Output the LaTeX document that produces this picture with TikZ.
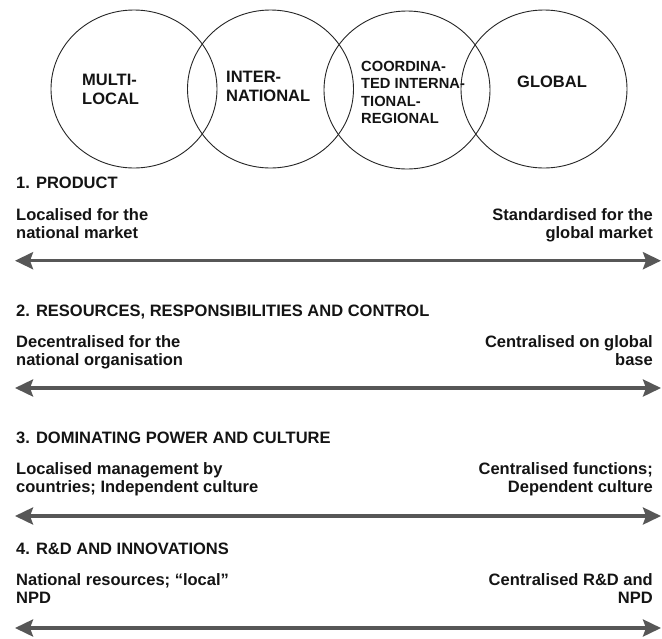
\documentclass[tikz,border=0pt]{standalone}
\usepackage{fontspec}
\setmainfont{Liberation Sans}
\usetikzlibrary{arrows.meta,shapes.geometric}
\begin{document}
\begin{tikzpicture}[x=1pt,y=-1pt,
  circ/.style={draw=black!85, line width=0.9pt, ellipse, minimum width=166pt, minimum height=158pt, inner sep=0pt},
  ctext/.style={anchor=north west, inner sep=0pt, align=left, text=black!92, font=\bfseries\fontsize{16.5}{19}\selectfont},
  ctextsmall/.style={anchor=north west, inner sep=0pt, align=left, text=black!92, font=\bfseries\fontsize{14.7}{17.2}\selectfont},
  title/.style={anchor=base west, inner sep=0pt, text=black!92, font=\bfseries\fontsize{16.5}{18}\selectfont},
  ltext/.style={anchor=north west, inner sep=0pt, align=left, text=black!92, font=\bfseries\fontsize{16.5}{18}\selectfont},
  rtext/.style={anchor=north east, inner sep=0pt, align=right, text=black!92, font=\bfseries\fontsize{16.5}{18}\selectfont},
  biarrow/.style={draw=black!66, line width=3.4pt, {Stealth[length=18pt,width=17pt,inset=3pt]}-{Stealth[length=18pt,width=17pt,inset=3pt]}}
]
\fill[white] (0,0) rectangle (662,638);
\useasboundingbox (0,0) rectangle (662,638);

% circles
\node[circ] (c1) at (134,89) {};
\node[circ] (c2) at (270.5,89) {};
\node[circ] (c3) at (407,90) {};
\node[circ] (c4) at (544,89) {};

\node[ctext] (t1) at (82,74.2) {MULTI-\\LOCAL};
\node[ctext] (t2) at (226,71) {INTER-\\NATIONAL};
\node[ctextsmall] (t3) at (361,61.2) {COORDINA-\\TED INTERNA-\\TIONAL-\\REGIONAL};
\node[ctext] (t4) at (517,76.2) {GLOBAL};

% 1
\node[title] (h1) at (16,188.3) {1. PRODUCT};
\node[ltext] (l1) at (16,208) {Localised for the\\national market};
\node[rtext] (r1) at (653,208) {Standardised for the\\global market};
\coordinate (a1l) at (15,260.7);
\coordinate (a1r) at (661,260.7);
\draw[biarrow] (a1l) -- (a1r);

% 2
\node[title] (h2) at (16,316) {2. RESOURCES, RESPONSIBILITIES AND CONTROL};
\node[ltext] (l2) at (16,335) {Decentralised for the\\national organisation};
\node[rtext] (r2) at (653,335) {Centralised on global\\base};
\coordinate (a2l) at (15,388);
\coordinate (a2r) at (661,388);
\draw[biarrow] (a2l) -- (a2r);

% 3
\node[title] (h3) at (16,443) {3. DOMINATING POWER AND CULTURE};
\node[ltext] (l3) at (16,462) {Localised management by\\countries; Independent culture};
\node[rtext] (r3) at (653,462) {Centralised functions;\\Dependent culture};
\coordinate (a3l) at (15,516);
\coordinate (a3r) at (661,516);
\draw[biarrow] (a3l) -- (a3r);

% 4
\node[title] (h4) at (16,554) {4. R\&D AND INNOVATIONS};
\node[ltext] (l4) at (16,573) {National resources; “local”\\NPD};
\node[rtext] (r4) at (653,573) {Centralised R\&D and\\NPD};
\coordinate (a4l) at (15,628);
\coordinate (a4r) at (661,628);
\draw[biarrow] (a4l) -- (a4r);
\end{tikzpicture}
\end{document}
